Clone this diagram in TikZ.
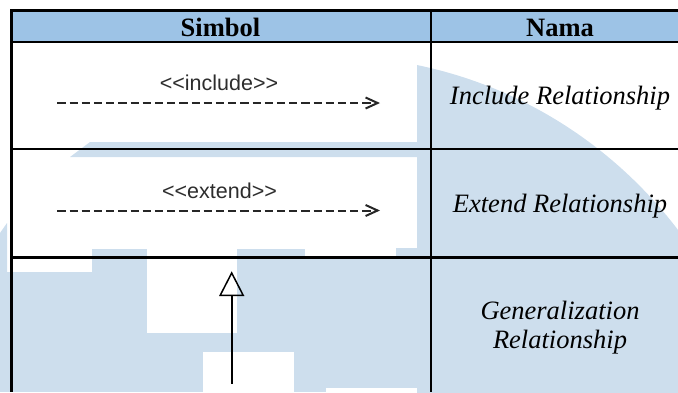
\documentclass[tikz,border=0pt]{standalone}
\usepackage{fontspec}
\setmainfont{Liberation Serif}
\newfontfamily\umlsans{Liberation Sans}
\usetikzlibrary{arrows.meta}
\definecolor{hdrblue}{RGB}{157,195,230}
\definecolor{wmblue}{RGB}{205,222,237}
\definecolor{umlgrey}{RGB}{45,45,45}
\begin{document}
\begin{tikzpicture}[x=1pt,y=-1pt,
  wm/.style={fill=wmblue},
  cutout/.style={fill=white},
  tablerule/.style={line width=2.6pt, draw=black},
  hdrtext/.style={anchor=base, inner sep=0pt, font=\fontsize{26.5}{29}\selectfont\bfseries},
  nametext/.style={anchor=base, inner sep=0pt, font=\fontsize{26.5}{29}\selectfont\itshape},
  stereo/.style={anchor=base, inner sep=0pt, text=umlgrey, font=\umlsans\fontsize{21.5}{24}\selectfont},
  dep/.style={line width=2pt, draw=black!85, dash pattern=on 8.2pt off 4pt,
    -{Straight Barb[length=12pt,width=11pt,line width=2pt]}},
  gen/.style={line width=1.6pt, draw=black,
    -{Triangle[open,length=24.7pt,width=25pt,line width=1.5pt]}}]
\useasboundingbox (0,0) rectangle (678,392);

% background watermark shapes
\begin{scope}
  \clip (417,0) rectangle (678,392);
  \fill[wm] (328,495) circle[radius=439pt];
\end{scope}
\fill[wm] (90,142) -- (417,142) -- (417,157) -- (70,157) -- cycle;
\fill[wm] (0,233) -- (7,223) -- (7,272) -- (0,272) -- cycle;
\fill[wm] (0,272) rectangle (417,392);
\fill[wm] (92,249) rectangle (147,272);
\fill[wm] (237,249) rectangle (305,272);
\fill[wm] (305,259) rectangle (417,272);
\fill[wm] (396,248) rectangle (417,259);
\fill[cutout] (147,272) rectangle (237,333);
\fill[cutout] (203,352) rectangle (294,392);
\fill[cutout] (326,388) rectangle (417,392);

% header band
\fill[hdrblue] (11.3,10.7) rectangle (678,42);

% table rules
\draw[tablerule] (10,10.7) -- (678,10.7);
\draw[tablerule] (10,42) -- (678,42);
\draw[tablerule] (10,148.9) -- (678,148.9);
\draw[tablerule] (10,257.7) -- (678,257.7);
\draw[tablerule] (11.3,9.4) -- (11.3,392);
\draw[tablerule] (431,9.4) -- (431,392);

% header texts
\node[hdrtext] (h-simbol) at (220.5,36) {Simbol};
\node[hdrtext] (h-nama) at (560,36) {Nama};

% include dependency
\node[stereo] (inc-lbl) at (219,90.5) {<\kern0pt<include>\kern0pt>};
\coordinate (inc-s) at (57.3,103);
\coordinate (inc-e) at (380,103);
\draw[dep] (inc-s) -- (inc-e);
\node[nametext] (n-inc) at (560,104) {Include Relationship};

% extend dependency
\node[stereo] (ext-lbl) at (219.5,198) {<\kern0pt<extend>\kern0pt>};
\coordinate (ext-s) at (57.3,210.5);
\coordinate (ext-e) at (380,210.5);
\draw[dep] (ext-s) -- (ext-e);
\node[nametext] (n-ext) at (560,212) {Extend Relationship};

% generalization
\coordinate (gen-s) at (231.7,383.7);
\coordinate (gen-e) at (231.7,271.3);
\draw[gen] (gen-s) -- (gen-e);
\node[nametext] (n-gen1) at (560,319.7) {Generalization};
\node[nametext] (n-gen2) at (560,348.7) {Relationship};
\end{tikzpicture}
\end{document}
